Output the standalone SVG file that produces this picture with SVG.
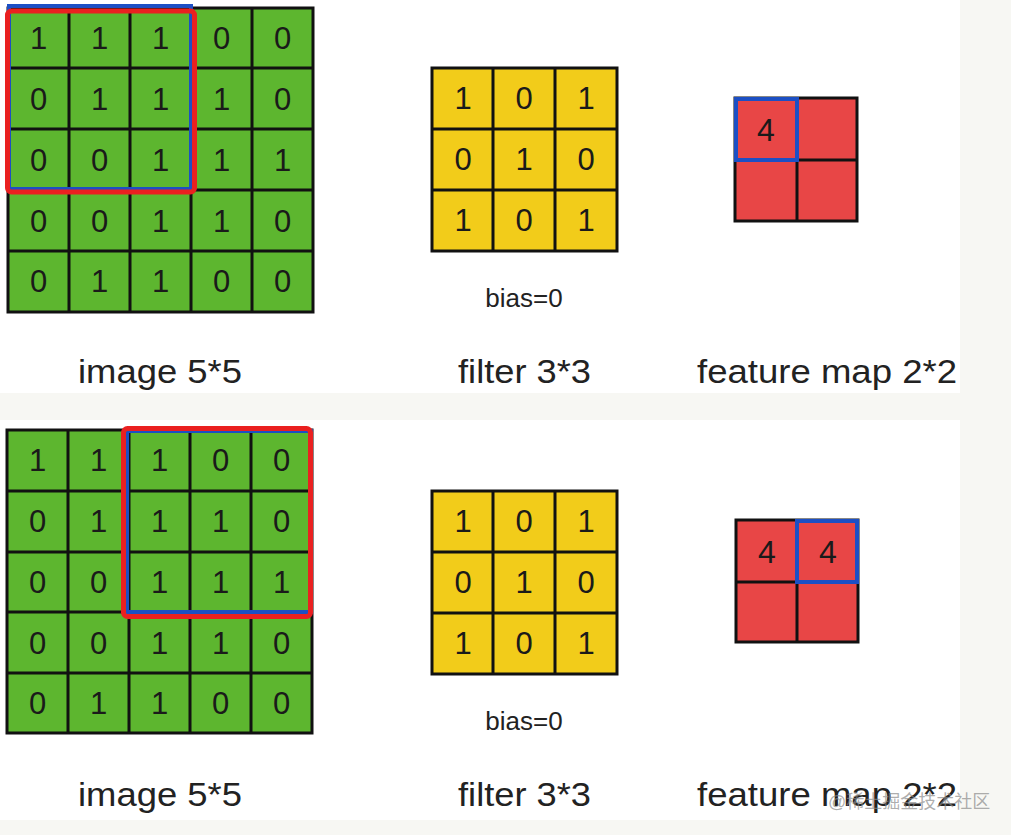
<svg xmlns="http://www.w3.org/2000/svg" width="1011" height="835" viewBox="0 0 1011 835">
<defs>
<style>
.bg{fill:#f7f7f3}
.panel{fill:#ffffff}
.g{fill:#5db62f}
.y{fill:#f2cc1a}
.r{fill:#e84646}
.line{fill:none;stroke:#111;stroke-width:3}
.d{font-family:"Liberation Sans",Arial,sans-serif;font-size:31px;fill:#1a1a1a;text-anchor:middle}
.fm{font-family:"Liberation Sans",Arial,sans-serif;font-size:32px;fill:#1a1a1a;text-anchor:middle}
.lbl{font-family:"Liberation Sans",Arial,sans-serif;font-size:33px;fill:#222;text-anchor:middle}
.bias{font-family:"Liberation Sans",Arial,sans-serif;font-size:26px;fill:#222;text-anchor:middle}
.blue{fill:none;stroke:#1c4fc4;stroke-width:4}
.red{fill:none;stroke:#ea2020;stroke-width:5}
.wm{font-family:"Liberation Sans","Noto Sans CJK SC",sans-serif;font-size:18px;fill:#8a8a8a;fill-opacity:0.7}
</style>
</defs>
<rect class="bg" x="0" y="0" width="1011" height="835"/>
<rect class="panel" x="0" y="0" width="960" height="393"/>
<rect class="panel" x="0" y="420" width="960" height="400"/>

<g id="connectors"/>

<!-- TOP ROW -->
<g id="image-top">
<rect class="g" x="8" y="8" width="305" height="304"/>
<path class="line" d="M8 8H313V312H8Z M69 8V312 M130 8V312 M191 8V312 M252 8V312 M8 68H313 M8 129H313 M8 190H313 M8 251H313"/>
<g class="d">
<text x="38.5" y="49">1</text><text x="99.5" y="49">1</text><text x="160.5" y="49">1</text><text x="221.5" y="49">0</text><text x="282.5" y="49">0</text>
<text x="38.5" y="110">0</text><text x="99.5" y="110">1</text><text x="160.5" y="110">1</text><text x="221.5" y="110">1</text><text x="282.5" y="110">0</text>
<text x="38.5" y="171">0</text><text x="99.5" y="171">0</text><text x="160.5" y="171">1</text><text x="221.5" y="171">1</text><text x="282.5" y="171">1</text>
<text x="38.5" y="232">0</text><text x="99.5" y="232">0</text><text x="160.5" y="232">1</text><text x="221.5" y="232">1</text><text x="282.5" y="232">0</text>
<text x="38.5" y="292">0</text><text x="99.5" y="292">1</text><text x="160.5" y="292">1</text><text x="221.5" y="292">0</text><text x="282.5" y="292">0</text>
</g>
<rect class="blue" x="9" y="6" width="182" height="183"/>
<rect class="red" x="7.5" y="11" width="187" height="181" rx="4"/>
</g>

<g id="filter-top">
<rect class="y" x="432" y="68" width="185" height="183"/>
<path class="line" d="M432 68H617V251H432Z M493 68V251 M555 68V251 M432 129H617 M432 190H617"/>
<g class="d">
<text x="463" y="109">1</text><text x="524" y="109">0</text><text x="586" y="109">1</text>
<text x="463" y="170">0</text><text x="524" y="170">1</text><text x="586" y="170">0</text>
<text x="463" y="231">1</text><text x="524" y="231">0</text><text x="586" y="231">1</text>
</g>
</g>
<g id="bias-top"><text class="bias" x="524" y="307">bias=0</text></g>

<g id="fmap-top">
<rect class="r" x="735" y="98" width="122" height="123"/>
<path class="line" d="M735 98H857V221H735Z M797 98V221 M735 160H857"/>
<text class="fm" x="766" y="141">4</text>
<rect class="blue" x="736" y="99" width="61" height="61"/>
</g>

<g id="label-image-top"><text class="lbl" x="160" y="383" textLength="164" lengthAdjust="spacingAndGlyphs">image 5*5</text></g>
<g id="label-filter-top"><text class="lbl" x="524.5" y="383" textLength="133" lengthAdjust="spacingAndGlyphs">filter 3*3</text></g>
<g id="label-fmap-top"><text class="lbl" x="827" y="383" textLength="260" lengthAdjust="spacingAndGlyphs">feature map 2*2</text></g>

<!-- BOTTOM ROW -->
<g id="image-bottom">
<rect class="g" x="7" y="430" width="305" height="303"/>
<path class="line" d="M7 430H312V733H7Z M68 430V733 M129 430V733 M190 430V733 M251 430V733 M7 491H312 M7 552H312 M7 612H312 M7 673H312"/>
<g class="d">
<text x="37.5" y="471">1</text><text x="98.5" y="471">1</text><text x="159.5" y="471">1</text><text x="220.5" y="471">0</text><text x="281.5" y="471">0</text>
<text x="37.5" y="532">0</text><text x="98.5" y="532">1</text><text x="159.5" y="532">1</text><text x="220.5" y="532">1</text><text x="281.5" y="532">0</text>
<text x="37.5" y="593">0</text><text x="98.5" y="593">0</text><text x="159.5" y="593">1</text><text x="220.5" y="593">1</text><text x="281.5" y="593">1</text>
<text x="37.5" y="654">0</text><text x="98.5" y="654">0</text><text x="159.5" y="654">1</text><text x="220.5" y="654">1</text><text x="281.5" y="654">0</text>
<text x="37.5" y="714">0</text><text x="98.5" y="714">1</text><text x="159.5" y="714">1</text><text x="220.5" y="714">0</text><text x="281.5" y="714">0</text>
</g>
<rect class="blue" x="127" y="431" width="184" height="181"/>
<rect class="red" x="123.5" y="428.5" width="187" height="188" rx="4"/>
</g>

<g id="filter-bottom">
<rect class="y" x="432" y="491" width="185" height="183"/>
<path class="line" d="M432 491H617V674H432Z M493 491V674 M555 491V674 M432 552H617 M432 613H617"/>
<g class="d">
<text x="463" y="532">1</text><text x="524" y="532">0</text><text x="586" y="532">1</text>
<text x="463" y="593">0</text><text x="524" y="593">1</text><text x="586" y="593">0</text>
<text x="463" y="654">1</text><text x="524" y="654">0</text><text x="586" y="654">1</text>
</g>
</g>
<g id="bias-bottom"><text class="bias" x="524" y="730">bias=0</text></g>

<g id="fmap-bottom">
<rect class="r" x="736" y="520" width="122" height="122"/>
<path class="line" d="M736 520H858V642H736Z M797 520V642 M736 582H858"/>
<text class="fm" x="767" y="563">4</text>
<text class="fm" x="828" y="563">4</text>
<rect class="blue" x="797" y="521" width="60" height="61"/>
</g>

<g id="label-image-bottom"><text class="lbl" x="160" y="806" textLength="164" lengthAdjust="spacingAndGlyphs">image 5*5</text></g>
<g id="label-filter-bottom"><text class="lbl" x="524.5" y="806" textLength="133" lengthAdjust="spacingAndGlyphs">filter 3*3</text></g>
<g id="label-fmap-bottom"><text class="lbl" x="827" y="806" textLength="260" lengthAdjust="spacingAndGlyphs">feature map 2*2</text></g>

<g id="watermark"><text class="wm" x="828" y="808">@稀土掘金技术社区</text></g>
</svg>
